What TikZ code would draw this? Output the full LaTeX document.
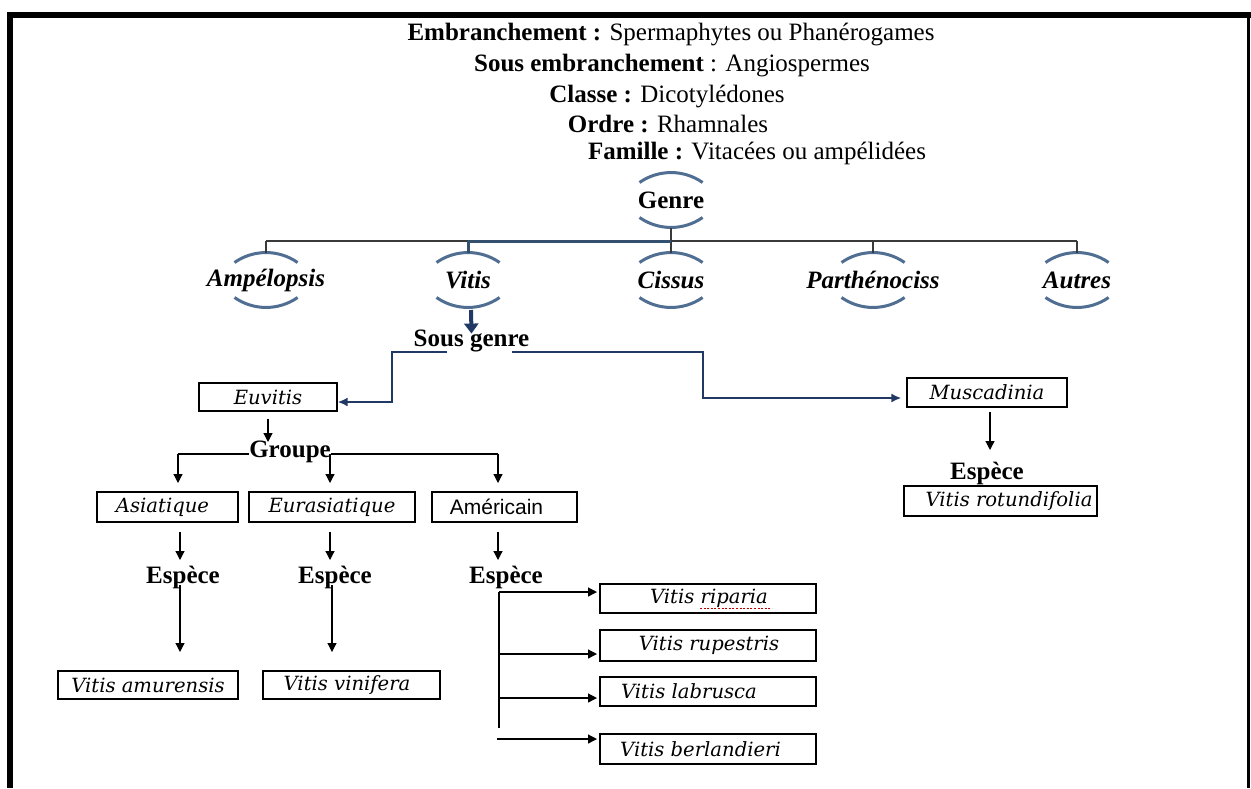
\documentclass[tikz,border=0pt]{standalone}
\usepackage{fontspec}
\setmainfont{Liberation Serif}
\newfontfamily\boxfont{DejaVu Serif}
\newfontfamily\arialfont{Liberation Sans}
\usetikzlibrary{arrows.meta}
\definecolor{arcblue}{HTML}{4F6E91}
\definecolor{navy}{HTML}{1F3864}
\definecolor{slate}{HTML}{34506F}
\definecolor{treegray}{HTML}{3A3A3A}
\begin{document}
\begin{tikzpicture}[x=0.5pt,y=0.5pt,
  lbl/.style={font=\fontsize{12.5}{14}\selectfont, inner sep=0pt},
  blbl/.style={font=\fontsize{12.5}{14}\selectfont\bfseries, inner sep=0pt},
  gen/.style={font=\fontsize{12.5}{14}\selectfont\bfseries\itshape, inner sep=0pt},
  arcst/.style={arcblue, line width=1.5pt},
  tree/.style={treegray, line width=0.7pt},
  bx/.style={draw, line width=0.6pt, inner sep=0pt, font=\boxfont\itshape\fontsize{9.8}{11}\selectfont},
  arr/.style={line width=0.6pt, -{Triangle[width=4.5pt,length=4.5pt]}},
  navyarr/.style={navy, line width=1.2pt, -{Latex[length=5pt,width=4.5pt]}},
]
\useasboundingbox (0,0) rectangle (1251,-788);
% frame
\fill (7,-12) rectangle (1251,-17.5);
\fill (7,-12) rectangle (13,-788);
\fill (1247,-12) rectangle (1249.5,-788);

% header
\node[lbl] (emb) at (671,-35) {\textbf{Embranchement :} Spermaphytes ou Phanérogames};
\node[lbl] (sem) at (672,-66) {\textbf{Sous embranchement} : Angiospermes};
\node[lbl] (cla) at (667,-97) {\textbf{Classe :} Dicotylédones};
\node[lbl] (ord) at (668,-124) {\textbf{Ordre :} Rhamnales};
\node[lbl] (fam) at (757,-153) {\textbf{Famille :} Vitacées ou ampélidées};

% genre level
\node[blbl] (genre) at (671,-200) {Genre};
\node[gen] (amp) at (266,-280) {Ampélopsis};
\node[gen] (vit) at (468,-280) {Vitis};
\node[gen] (cis) at (671,-280) {Cissus};
\node[gen] (par) at (873,-280) {Parthénociss};
\node[gen] (aut) at (1077,-280) {Autres};
\foreach \n in {genre,amp,vit,cis,par,aut}{
  \draw[arcst] ([shift={(-31.5,17.5)}]\n.center) arc[start angle=125,end angle=55,radius=55];
  \draw[arcst] ([shift={(-31.5,-17.5)}]\n.center) arc[start angle=235,end angle=305,radius=55];
}
\coordinate (hb) at (0,-241);
\draw[tree] ([shift={(0,-28)}]genre.center) -- (genre.center |- hb);
\draw[tree] (amp.center |- hb) -- (aut.center |- hb);
\foreach \n in {amp,cis,par,aut}
  \draw[tree] (\n.center |- hb) -- ([shift={(0,27.5)}]\n.center);
\draw[slate, line width=1.5pt] (vit.center |- hb) -- (genre.center |- hb);
\draw[slate, line width=1.5pt] (vit.center |- hb) -- ([shift={(0,27.5)}]vit.center);

% sous genre
\node[blbl] (sg) at (471.5,-341) {Sous genre};
\draw[navy, line width=2pt, -{Triangle[width=7pt,length=5pt]}] ([shift={(3,-30)}]vit.center) -- ([shift={(0,-4)}]sg.north);

\node[bx, minimum width=69pt, minimum height=14pt] (euv) at (268,-397) {Euvitis};
\node[bx, minimum width=80pt, minimum height=14.5pt] (mus) at (987,-392.5) {Muscadinia};
\draw[navyarr] ([shift={(-24.5,-11)}]sg.center) -- (392,-352) |- ([shift={(0,-5)}]euv.east);
\draw[navyarr, shorten >=2.5pt] ([shift={(40.5,-11)}]sg.center) -- (703,-352) |- ([shift={(0,-5.5)}]mus.west);

% groupe
\draw[line width=0.6pt] (178,-454) -- (498,-454);
\node[blbl, fill=white] (grp) at (290,-452) {Groupe};
\draw[arr] ([shift={(0,-7)}]euv.south) -- (268,-442);
\node[bx, minimum width=70.5pt, minimum height=15pt] (asi) at (167.5,-507) {Asiatique\hspace*{5pt}};
\node[bx, minimum width=83pt, minimum height=15pt] (eur) at (332,-507) {Eurasiatique};
\node[bx, minimum width=72.5pt, minimum height=15pt, font=\arialfont\fontsize{10.5}{12}\selectfont] (ame) at (504.5,-507) {Américain\hspace*{8pt}};
\draw[arr] (178,-454) -- (178,-483);
\draw[arr] (330,-454) -- (330,-483);
\draw[arr] (498,-454) -- (498,-483);

% especes
\node[blbl] (es1) at (183,-577) {Espèce};
\node[blbl] (es2) at (335,-577) {Espèce};
\node[blbl] (es3) at (506,-577) {Espèce};
\node[blbl] (es4) at (987,-473) {Espèce};
\draw[arr] (180,-532) -- (180,-560);
\draw[arr] (330,-532) -- (330,-560);
\draw[arr] (498,-532) -- (498,-560);
\draw[arr] (990,-412) -- (990,-450);

\node[bx, minimum width=90pt, minimum height=14pt] (amu) at (148,-685) {Vitis amurensis};
\node[bx, minimum width=88.5pt, minimum height=14pt] (vin) at (351.5,-685) {Vitis vinifera\hspace*{4.5pt}};
\draw[arr] (180,-585) -- (180,-652);
\draw[arr] (332,-585) -- (332,-652);

\node[bx, minimum width=96.5pt, minimum height=15pt] (rot) at (1000.5,-501) {\hspace*{8.5pt}Vitis rotundifolia};

\node[bx, minimum width=108pt, minimum height=14.5pt] (rip) at (708,-598.5) {\hspace*{1pt}Vitis riparia};
\node[bx, minimum width=108pt, minimum height=15.5pt] (rup) at (708,-645.5) {\hspace*{1pt}Vitis rupestris};
\node[bx, minimum width=108pt, minimum height=14.5pt] (lab) at (708,-691.5) {Vitis labrusca\hspace*{19pt}};
\node[bx, minimum width=108pt, minimum height=15pt] (ber) at (708,-749) {Vitis berlandieri\hspace*{7.5pt}};
\draw[red!75!black, line width=0.5pt, dash pattern=on 1pt off 0.8pt] (700,-608) -- (772,-608);

\draw[line width=0.6pt] (499,-592) -- (499,-728);
\draw[arr] (499,-592) -- (597,-592);
\draw[arr] (499,-654) -- (597,-654);
\draw[arr] (499,-698) -- (597,-698);
\draw[arr] (497,-739) -- (597,-739);
\end{tikzpicture}
\end{document}
